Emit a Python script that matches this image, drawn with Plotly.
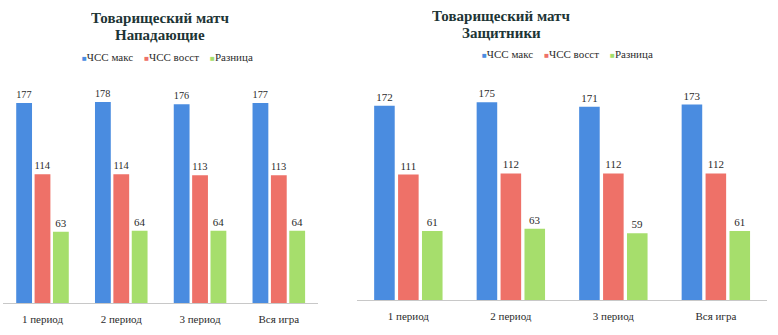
import plotly.graph_objects as go

categories = ["1 период", "2 период", "3 период", "Вся игра"]
series_names = ["ЧСС макс", "ЧСС восст", "Разница"]
colors = ["#4a8ce0", "#ee7168", "#a6de6c"]

fwd_max = [177, 178, 176, 177]
fwd_rec = [114, 114, 113, 113]
fwd_diff = [63, 64, 64, 64]

def_max = [172, 175, 171, 173]
def_rec = [111, 112, 112, 112]
def_diff = [61, 63, 59, 61]

FONT = "Liberation Serif"
TXT = "#2b2b2b"
W, H = 778, 335

fig = go.Figure()

for name, vals, col in zip(series_names, [fwd_max, fwd_rec, fwd_diff], colors):
    fig.add_trace(go.Bar(
        x=categories, y=vals, name=name, marker=dict(color=col, line=dict(width=0)),
        text=vals, textposition="outside", cliponaxis=False,
        textfont=dict(family=FONT, size=11, color=TXT),
        xaxis="x", yaxis="y", showlegend=False,
    ))

for name, vals, col in zip(series_names, [def_max, def_rec, def_diff], colors):
    fig.add_trace(go.Bar(
        x=categories, y=vals, name=name, marker=dict(color=col, line=dict(width=0)),
        text=vals, textposition="outside", cliponaxis=False,
        textfont=dict(family=FONT, size=11, color=TXT),
        xaxis="x2", yaxis="y2", showlegend=False,
    ))

axis_common = dict(showgrid=False, zeroline=False, ticks="", showline=True,
                   linecolor="#c8c8c8", linewidth=1, ticklabelstandoff=6,
                   tickfont=dict(family=FONT, size=11, color=TXT))
yaxis_common = dict(range=[0, 200], showgrid=False, zeroline=False,
                    showticklabels=False, showline=False)

legend_text = "&nbsp;&nbsp;&nbsp;&nbsp;".join(
    f'<span style="color:{c};font-size:8px">■</span>{n}'
    for n, c in zip(series_names, colors)
)

def px_ann(text, x, y, font, xanchor="center", yanchor="middle", height=None):
    d = dict(text=text, x=x / W, y=1 - y / H, xref="paper", yref="paper",
             showarrow=False, font=font, align="center",
             xanchor=xanchor, yanchor=yanchor)
    if height:
        d["height"] = height
    return d

title_font = dict(family=FONT, size=15, color="#1d3535")
legend_font = dict(family=FONT, size=11, color=TXT)

fig.update_layout(
    width=W, height=H,
    margin=dict(l=0, r=0, t=0, b=0),
    paper_bgcolor="white", plot_bgcolor="white",
    barmode="group", bargap=0.3, bargroupgap=0.14,
    showlegend=False,
    xaxis=dict(domain=[0.004, 0.409], anchor="y", **axis_common),
    yaxis=dict(domain=[0.0955, 0.770], anchor="x", **yaxis_common),
    xaxis2=dict(domain=[0.459, 0.986], anchor="y2", **axis_common),
    yaxis2=dict(domain=[0.1045, 0.779], anchor="x2", **yaxis_common),
    annotations=[
        px_ann("<b>Товарищеский матч</b>", 160, 18, title_font, height=16),
        px_ann("<b>Нападающие</b>", 160, 35, title_font, height=16),
        px_ann("<b>Товарищеский матч</b>", 501, 16, title_font, height=16),
        px_ann("<b>Защитники</b>", 501, 33, title_font, height=16),
        px_ann(legend_text, 80, 57, legend_font, xanchor="left"),
        px_ann(legend_text, 480, 54, legend_font, xanchor="left"),
    ],
)

fig.write_html("out.html")
